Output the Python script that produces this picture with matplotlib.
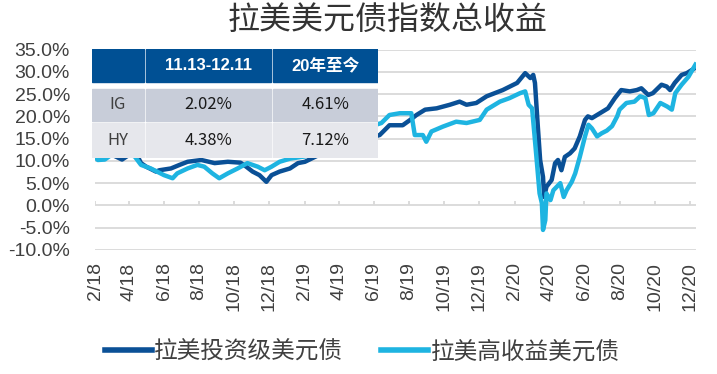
import matplotlib.pyplot as plt
import matplotlib.dates as mdates
import pandas as pd
from matplotlib.patches import Rectangle
from matplotlib.ticker import FuncFormatter, MultipleLocator

plt.rcParams['font.family'] = ['Liberation Sans', 'Noto Sans CJK SC', 'DejaVu Sans']

# 拉美投资级美元债 (IG), cumulative total return in %
ig_dates = ['2018-02-01', '2018-02-10', '2018-02-27', '2018-03-20', '2018-04-03', '2018-04-17',
            '2018-04-22', '2018-05-01', '2018-05-18', '2018-05-24', '2018-06-13', '2018-06-28',
            '2018-07-12', '2018-08-05', '2018-08-28', '2018-09-20', '2018-10-12', '2018-10-22',
            '2018-11-02', '2018-11-14', '2018-11-26', '2018-12-05', '2018-12-19', '2019-01-06',
            '2019-01-20', '2019-02-01', '2019-02-28', '2019-04-03', '2019-05-08', '2019-06-11',
            '2019-06-28', '2019-07-21', '2019-08-03', '2019-08-14', '2019-08-29', '2019-09-18',
            '2019-10-11', '2019-10-28', '2019-11-09', '2019-11-26', '2019-12-14', '2020-01-11',
            '2020-02-05', '2020-02-19', '2020-02-28', '2020-03-04', '2020-03-07', '2020-03-12',
            '2020-03-16', '2020-03-21', '2020-03-23', '2020-03-27', '2020-04-05', '2020-04-11',
            '2020-04-16', '2020-04-22', '2020-04-28', '2020-05-07', '2020-05-15', '2020-05-24',
            '2020-06-02', '2020-06-07', '2020-06-14', '2020-06-28', '2020-07-12', '2020-07-24',
            '2020-08-04', '2020-08-19', '2020-08-31', '2020-09-08', '2020-09-20', '2020-09-28',
            '2020-10-13', '2020-10-22', '2020-10-28', '2020-11-05', '2020-11-17', '2020-11-26',
            '2020-12-11']
ig_values = [11.0, 10.8, 11.6, 10.3, 11.5, 10.8,
             9.5, 8.7, 7.6, 7.9, 8.3, 9.1,
             9.8, 10.2, 9.5, 9.8, 9.6, 8.7,
             7.6, 6.8, 5.3, 6.8, 7.6, 8.3,
             9.5, 9.8, 11.5, 13.0, 14.5, 15.8,
             18.0, 18.0, 19.2, 20.3, 21.5, 21.8,
             22.6, 23.3, 22.6, 23.0, 24.5, 25.9,
             27.5, 29.7, 28.6, 29.3, 27.5, 17.7,
             10.2, 6.4, 1.9, 4.2, 5.7, 9.5,
             10.2, 7.9, 10.9, 11.7, 12.8, 15.5,
             19.2, 20.0, 19.6, 20.7, 21.8, 24.1,
             25.9, 25.6, 25.9, 26.3, 24.8, 25.2,
             27.1, 26.7, 25.9, 27.5, 29.3, 29.7,
             30.9]

# 拉美高收益美元债 (HY), cumulative total return in %
hy_dates = ['2018-02-01', '2018-02-06', '2018-02-18', '2018-03-03', '2018-03-25', '2018-04-11',
            '2018-04-22', '2018-05-09', '2018-06-01', '2018-06-16', '2018-06-24', '2018-07-12',
            '2018-07-29', '2018-08-10', '2018-08-24', '2018-09-05', '2018-09-20', '2018-10-07',
            '2018-10-24', '2018-11-11', '2018-11-23', '2018-12-05', '2018-12-19', '2019-01-06',
            '2019-02-01', '2019-02-28', '2019-04-03', '2019-05-08', '2019-06-14', '2019-06-28',
            '2019-07-16', '2019-08-05', '2019-08-11', '2019-08-25', '2019-08-31', '2019-09-09',
            '2019-09-29', '2019-10-22', '2019-11-09', '2019-12-02', '2019-12-14', '2020-01-06',
            '2020-01-23', '2020-02-10', '2020-02-19', '2020-02-25', '2020-03-02', '2020-03-10',
            '2020-03-15', '2020-03-19', '2020-03-21', '2020-03-25', '2020-03-27', '2020-04-03',
            '2020-04-08', '2020-04-14', '2020-04-20', '2020-04-26', '2020-05-01', '2020-05-10',
            '2020-05-16', '2020-05-24', '2020-06-02', '2020-06-08', '2020-06-14', '2020-06-23',
            '2020-07-01', '2020-07-10', '2020-07-19', '2020-07-28', '2020-08-01', '2020-08-13',
            '2020-08-27', '2020-09-06', '2020-09-15', '2020-09-21', '2020-09-29', '2020-10-11',
            '2020-10-23', '2020-10-31', '2020-11-06', '2020-11-17', '2020-11-29', '2020-12-11']
hy_values = [10.8, 10.2, 10.3, 11.5, 11.8, 11.0,
             9.1, 8.3, 6.8, 6.1, 7.2, 8.3,
             9.1, 8.7, 7.2, 6.1, 7.2, 8.3,
             9.5, 8.7, 7.9, 8.7, 9.8, 10.5,
             11.0, 12.5, 15.0, 17.0, 18.5, 20.3,
             20.7, 20.7, 15.8, 15.8, 14.3, 16.6,
             17.7, 18.8, 18.5, 19.2, 21.5, 23.3,
             24.1, 25.2, 25.6, 22.6, 21.8, 10.2,
             2.7, 0.5, -5.5, -3.3, 2.7, 1.2,
             3.4, 4.2, 5.0, 1.9, 3.4, 5.3,
             7.2, 10.9, 15.5, 18.1, 17.3, 15.5,
             16.2, 16.8, 17.8, 20.0, 21.5, 23.0,
             23.3, 24.5, 24.1, 20.3, 20.7, 23.0,
             22.2, 21.5, 25.2, 27.1, 28.9, 31.6]

title = '拉美美元债指数总收益'
series_names = ['拉美投资级美元债', '拉美高收益美元债']
table_header = ['', '11.13-12.11', '20年至今']
table_rows = [['IG', '2.02%', '4.61%'],
              ['HY', '4.38%', '7.12%']]

dark_blue = '#0A5096'
light_blue = '#1EB4E1'
grid_gray = '#D9D9D9'
text_gray = '#404040'

fig = plt.figure(figsize=(7.17, 3.74), dpi=100)
ax = fig.add_axes([0.1325, 0.3316, 0.8382, 0.536])

ax.plot(pd.to_datetime(ig_dates), ig_values, color=dark_blue, lw=3.2,
        solid_joinstyle='round', label=series_names[0], zorder=3)
ax.plot(pd.to_datetime(hy_dates), hy_values, color=light_blue, lw=3.2,
        solid_joinstyle='round', label=series_names[1], zorder=3)

ax.set_ylim(-10, 35)
ax.set_xlim(pd.Timestamp('2018-02-01'), pd.Timestamp('2020-12-12'))
ax.yaxis.set_major_locator(MultipleLocator(5))
ax.yaxis.set_major_formatter(FuncFormatter(lambda v, p: f'{v:.1f}%'))
ax.grid(axis='y', color=grid_gray, lw=1.3, zorder=0)
ax.set_axisbelow(True)
for s in ax.spines.values():
    s.set_visible(False)

ax.xaxis.set_major_locator(mdates.MonthLocator(bymonth=[2, 4, 6, 8, 10, 12]))
ax.xaxis.set_major_formatter(FuncFormatter(
    lambda v, p: f'{mdates.num2date(v).month}/{mdates.num2date(v).strftime("%y")}'))
ax.tick_params(axis='x', length=0, pad=9, labelsize=14, labelcolor=text_gray, rotation=90)
ax.tick_params(axis='y', length=0, pad=18, labelsize=14, labelcolor=text_gray)

# small tick marks on the 0% line, at the same dates as the labels
ax.vlines(ax.get_xticks(), 0, 0.9, color=grid_gray, lw=1.3, zorder=1)

fig.text(0.541, 0.945, title, ha='center', va='center', fontsize=23,
         color='#333333', family=['Noto Sans CJK SC', 'DejaVu Sans'])

leg = fig.legend(loc='center', bbox_to_anchor=(0.505, 0.059), ncol=2, frameon=False,
                 handlelength=2.0, handletextpad=0.1, columnspacing=1.6,
                 prop={'family': ['Noto Sans CJK SC', 'DejaVu Sans'], 'size': 17})
for h in leg.get_lines():
    h.set_linewidth(4)
for t in leg.get_texts():
    t.set_color(text_gray)

# summary table drawn over the chart
tx0, ty0, tw, th = 91.7, 49.3, 286.0, 108.4
tax = fig.add_axes([tx0 / 717, 1 - (ty0 + th) / 374, tw / 717, th / 374])
tax.set_xlim(0, tw)
tax.set_ylim(th, 0)
tax.axis('off')
tax.add_patch(Rectangle((0, 0), tw, th, color='white', zorder=0))
cols = [(0, 52.3), (54.3, 179.6), (181.3, tw)]
rows = [(0, 32.4), (39.7, 71.4), (74.0, th)]
row_colors = ['#005094', '#C8CDD9', '#E6E7EC']
cells = [table_header] + table_rows
for r, (y0, y1) in enumerate(rows):
    for c, (x0, x1) in enumerate(cols):
        tax.add_patch(Rectangle((x0, y0), x1 - x0, y1 - y0, color=row_colors[r], zorder=1))
        txt = cells[r][c]
        if r == 0:
            tax.text((x0 + x1) / 2, (y0 + y1) / 2, txt, ha='center', va='center',
                     fontsize=12, fontweight='bold', color='white', zorder=2)
        else:
            tax.text((x0 + x1) / 2, (y0 + y1) / 2, txt, ha='center', va='center',
                     fontsize=12, color=text_gray if c == 0 else '#1A1A1A', zorder=2,
                     family=['Noto Sans CJK SC', 'DejaVu Sans'])

fig.savefig('out.png', dpi=100, facecolor='white')
